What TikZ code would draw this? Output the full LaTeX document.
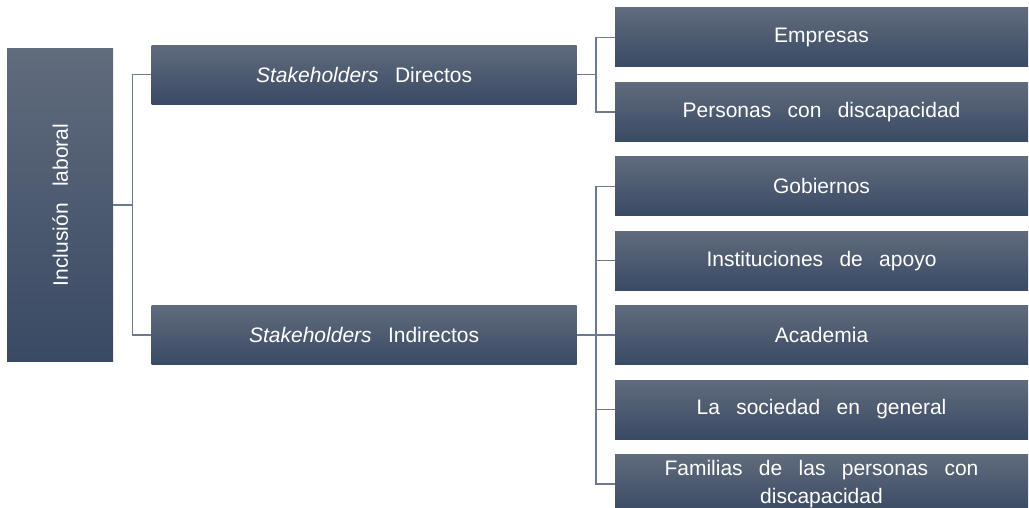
\documentclass[tikz,border=0pt]{standalone}
\usepackage{fontspec}
\setmainfont{Liberation Sans}[WordSpace=2.8]
\usepackage{xcolor}
\usepackage{tikz}
\usetikzlibrary{positioning,calc}

\definecolor{boxtop}{RGB}{96,107,124}
\definecolor{boxbot}{RGB}{58,74,100}
\definecolor{linkcol}{RGB}{108,122,143}

\tikzset{
  stakebox/.style={top color=boxtop, bottom color=boxbot, text=white, inner sep=0pt,
    align=center, font=\fontsize{21}{28}\selectfont},
  leafbox/.style={stakebox, minimum width=413pt, minimum height=59pt},
  midbox/.style={stakebox, minimum width=425pt, minimum height=59pt},
  rootbox/.style={stakebox, minimum width=106pt, minimum height=313pt},
  link/.style={draw=linkcol, line width=1.5pt}
}

\begin{document}
\begin{tikzpicture}
\useasboundingbox (0,0) rectangle (1029pt,-508pt);

% nodes %
\node[leafbox] (emp) at (821.5pt,-37.5pt) {Empresas};
\node[leafbox, below = 15pt of emp] (per) {Personas con discapacidad};
\node[leafbox, below = 15pt of per] (gob) {Gobiernos};
\node[leafbox, below = 15pt of gob] (ins) {Instituciones de apoyo};
\node[leafbox, below = 15pt of ins] (aca) {Academia};
\node[leafbox, below = 15pt of aca] (soc) {La sociedad en general};
\node[leafbox, below = 15pt of soc] (fam) {Familias de las personas con\\discapacidad};

\coordinate (dmid) at ($(emp.west)!0.5!(per.west)$);
\node[midbox, left = 38pt of dmid] (dir) {\textit{Stakeholders} Directos};
\node[midbox, left = 38pt of aca] (ind) {\textit{Stakeholders} Indirectos};

\coordinate (rmid) at ($(dir.west)!0.5!(ind.west)$);
\node[rootbox, left = 38pt of rmid] (incl) {\rotatebox{90}{Inclusión laboral}};

% edges %
\draw[link] (incl.east) -- ++(19pt,0) |- (dir.west);
\draw[link] (incl.east) -- ++(19pt,0) |- (ind.west);
\draw[link] (dir.east) -- ++(19pt,0) |- (emp.west);
\draw[link] (dir.east) -- ++(19pt,0) |- (per.west);
\draw[link] (ind.east) -- ++(19pt,0) |- (gob.west);
\draw[link] (ind.east) -- ++(19pt,0) |- (ins.west);
\draw[link] (ind.east) -- (aca.west);
\draw[link] (ind.east) -- ++(19pt,0) |- (soc.west);
\draw[link] (ind.east) -- ++(19pt,0) |- (fam.west);

\end{tikzpicture}
\end{document}
